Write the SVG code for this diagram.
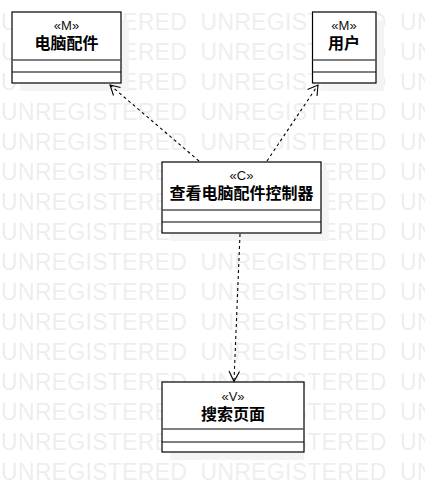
<svg xmlns="http://www.w3.org/2000/svg" width="425" height="503" viewBox="0 0 425 503">
<style>
.wm{font-family:"Liberation Sans",Arial,sans-serif;font-size:23px;fill:#ededed}
.box{fill:#ffffff;stroke:#000000;stroke-width:1.2}
.shadow{fill:#f4f4f4}
.div1{stroke:#555555;stroke-width:1.6}
.div2{stroke:#000000;stroke-width:1.1}
.st{font-family:"Liberation Sans","Noto Sans CJK SC",sans-serif;font-size:13px;fill:#111111;text-anchor:middle}
.nm{font-family:"Liberation Sans","Noto Sans CJK SC",sans-serif;font-size:16px;font-weight:bold;fill:#000000;text-anchor:middle}
.dep{fill:none;stroke:#000000;stroke-width:1.1;stroke-dasharray:3,3}
.head{fill:none;stroke:#000000;stroke-width:1.1}
</style>
<defs>
<pattern id="wmp" x="1" y="0" width="199.5" height="30" patternUnits="userSpaceOnUse">
<text class="wm" x="0" y="30" textLength="186" lengthAdjust="spacing">UNREGISTERED</text>
</pattern>
</defs>
<rect width="425" height="503" fill="#ffffff"/>
<rect x="0" y="0" width="425" height="485" fill="url(#wmp)"/>

<g id="node-pc-parts">
<rect class="shadow" x="20" y="20" width="109" height="71"/>
<rect class="box" x="12" y="12" width="109" height="71"/>
<line class="div1" x1="12" y1="60" x2="121" y2="60"/>
<line class="div2" x1="12" y1="72" x2="121" y2="72"/>
<text class="st" x="66.5" y="30">«M»</text>
<text class="nm" x="66.5" y="49">电脑配件</text>
</g>

<g id="node-user">
<rect class="shadow" x="320.5" y="20" width="63.5" height="71"/>
<rect class="box" x="312.5" y="12" width="63.5" height="71"/>
<line class="div1" x1="312.5" y1="60" x2="376" y2="60"/>
<line class="div2" x1="312.5" y1="72" x2="376" y2="72"/>
<text class="st" x="344" y="30">«M»</text>
<text class="nm" x="344" y="49">用户</text>
</g>

<g id="node-controller">
<rect class="shadow" x="170" y="170" width="159" height="71"/>
<rect class="box" x="162" y="162" width="159" height="71"/>
<line class="div1" x1="162" y1="210" x2="321" y2="210"/>
<line class="div2" x1="162" y1="222" x2="321" y2="222"/>
<text class="st" x="241.5" y="179.5">«C»</text>
<text class="nm" x="241.5" y="199">查看电脑配件控制器</text>
</g>

<g id="node-search">
<rect class="shadow" x="170" y="390" width="134" height="70"/>
<rect class="box" x="162" y="382" width="142" height="70"/>
<line class="div1" x1="162" y1="429" x2="304" y2="429"/>
<line class="div2" x1="162" y1="442" x2="304" y2="442"/>
<text class="st" x="233" y="401">«V»</text>
<text class="nm" x="233" y="420">搜索页面</text>
</g>

<g id="connectors">
<line class="dep" x1="199" y1="161" x2="110" y2="85"/>
<polyline class="head" points="113.5,95.5 110,85 120.5,87.5"/>
<line class="dep" x1="267" y1="161" x2="318" y2="85"/>
<polyline class="head" points="307.5,89.5 318,85 317,96"/>
<line class="dep" x1="240" y1="234" x2="234" y2="381"/>
<polyline class="head" points="229,371 234,381.5 239.5,371.5"/>
</g>
</svg>
